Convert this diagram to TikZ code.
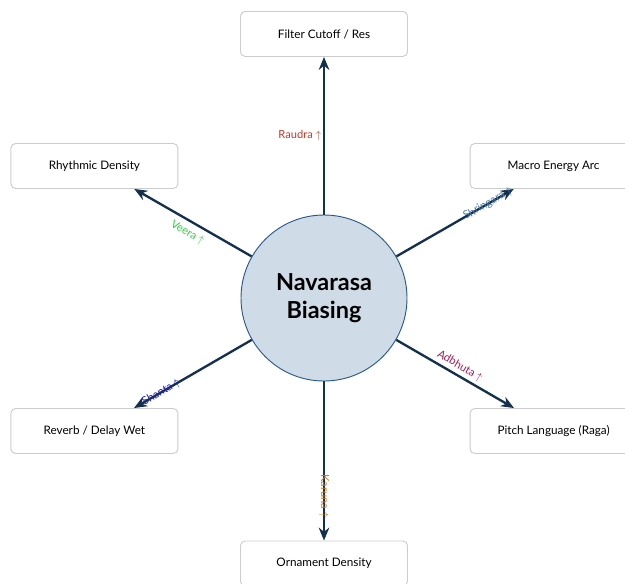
\documentclass[tikz,border=0pt]{standalone}
\usepackage{fontspec}
\setmainfont{Lato}
\usetikzlibrary{arrows.meta}
\definecolor{navy}{HTML}{14304F}
\definecolor{hubfill}{HTML}{CFDBE7}
\definecolor{hubline}{HTML}{2A5A8C}
\definecolor{boxline}{HTML}{CCCCCC}
\definecolor{craudra}{HTML}{C0392B}
\definecolor{cveera}{HTML}{2ECC40}
\definecolor{cshring}{HTML}{4A7AAA}
\definecolor{cshanta}{HTML}{2222BB}
\definecolor{cadbhuta}{HTML}{A01E55}
\definecolor{ckaruna}{HTML}{D0761A}
\tikzset{
  hub/.style={circle, draw=hubline, line width=0.8pt, fill=hubfill,
    minimum size=4.98cm, inner sep=0pt, align=center,
    font=\fontsize{20}{23.5}\selectfont\bfseries},
  target/.style={draw=boxline, line width=0.8pt, rounded corners=4pt, fill=white,
    minimum width=5.01cm, minimum height=1.35cm, inner sep=2pt,
    font=\fontsize{10}{12}\selectfont},
  link/.style={draw=navy, line width=2pt, -{Stealth[length=11pt,width=9pt]}},
  rasa/.style={font=\fontsize{9.5}{11}\selectfont, inner sep=1.5pt}
}
\begin{document}
\begin{tikzpicture}[x=0.03cm, y=-0.03cm]
\useasboundingbox (0,0) rectangle (625,583);
\node[hub] (c) at (324,298) {Navarasa\\Biasing};
\node[target] (top) at (324,34) {Filter Cutoff / Res};
\node[target] (ne) at (553.6,166) {Macro Energy Arc};
\node[target] (se) at (553.6,431) {Pitch Language (Raga)};
\node[target] (bot) at (324,563.5) {Ornament Density};
\node[target] (nw) at (94.4,166) {Rhythmic Density};
\node[target] (sw) at (94.4,431) {Reverb / Delay Wet};

\draw[link] (c) -- (top) node[rasa, midway, left, text=craudra] {Raudra $\uparrow$};
\draw[link] (c) -- (nw) node[rasa, midway, sloped, below=3pt, text=cveera] {Veera $\uparrow$};
\draw[link] (c) -- (ne) node[rasa, pos=0.78, sloped, text=cshring] {Shringara $\uparrow$};
\draw[link] (c) -- (se) node[rasa, midway, sloped, above=1pt, text=cadbhuta] {Adbhuta $\uparrow$};
\draw[link] (c) -- (sw) node[rasa, pos=0.77, sloped, text=cshanta] {Shanta $\uparrow$};
\draw[link] (c) -- (bot) node[rasa, pos=0.72, rotate=-90, text=ckaruna] {Karuna $\uparrow$};
\end{tikzpicture}
\end{document}
